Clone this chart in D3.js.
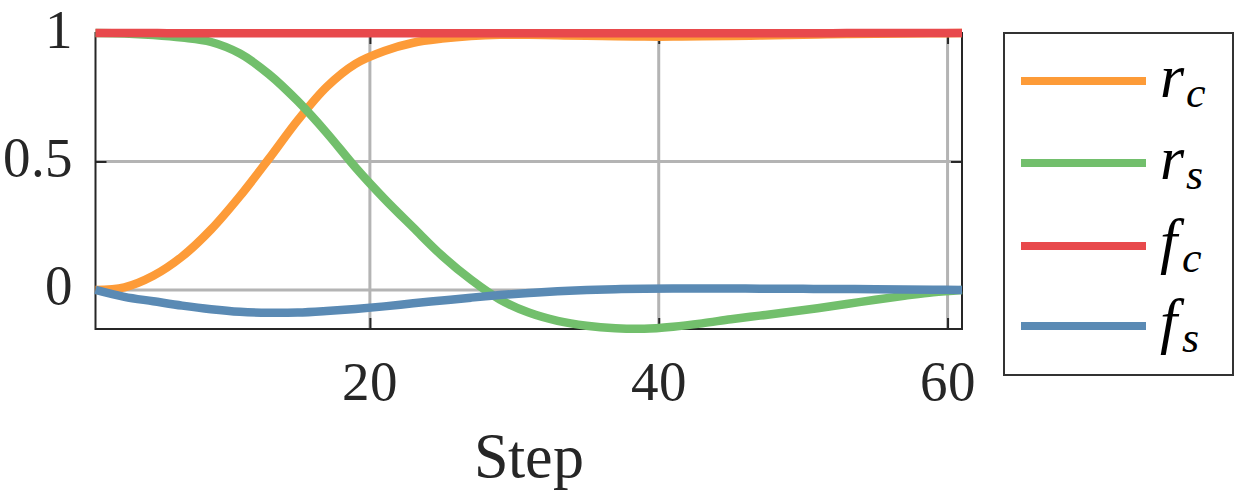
<!DOCTYPE html>
<html>
<head>
<meta charset="utf-8">
<script src="https://cdn.jsdelivr.net/npm/d3@7"></script>
<style>
  @font-face { font-family: "RefSerif"; font-style: normal; src: local("Liberation Serif"), local("LiberationSerif"), local("LiberationSerif-Regular"), local("Times New Roman"), local("DejaVu Serif"), local("DejaVuSerif"); }
  @font-face { font-family: "RefSerif"; font-style: italic; src: local("Liberation Serif Italic"), local("LiberationSerif-Italic"), local("Times New Roman Italic"), local("DejaVu Serif Italic"), local("DejaVuSerif-Italic"); }
  html, body { margin: 0; padding: 0; background: #fff; }
  svg { display: block; }
  text { font-family: "RefSerif", "Liberation Serif", "Times New Roman", Tinos, "DejaVu Serif", "Noto Serif", serif; fill: #262626; }
</style>
</head>
<body>
<svg id="chart" width="1250" height="500"></svg>
<script>
// ---- data ----
const steps = [1,3,5,7,9,11,13,15,17,19,21,23,25,27,29,31,33,35,37,39,41,43,45,47,49,51,53,55,57,59,61];
const rc = [0,0.01,0.055,0.13,0.235,0.365,0.51,0.66,0.79,0.88,0.93,0.962,0.978,0.988,0.993,0.993,0.991,0.989,0.987,0.986,0.986,0.987,0.988,0.99,0.992,0.994,0.996,0.997,0.998,0.999,1];
const rs = [1,0.998,0.992,0.982,0.965,0.92,0.84,0.735,0.612,0.477,0.355,0.243,0.133,0.04,-0.037,-0.088,-0.12,-0.139,-0.149,-0.151,-0.143,-0.13,-0.114,-0.1,-0.086,-0.071,-0.055,-0.038,-0.023,-0.009,0];
const fc = [1,1,1,0.999,0.999,0.999,0.999,0.999,0.999,0.999,0.999,0.999,0.999,0.999,0.999,0.999,0.999,0.999,0.999,0.999,0.999,0.999,0.999,0.999,0.999,0.999,1,1,1,1,1];
const fs = [0,-0.027,-0.044,-0.061,-0.075,-0.085,-0.089,-0.088,-0.082,-0.074,-0.064,-0.052,-0.041,-0.03,-0.02,-0.012,-0.005,0,0.003,0.005,0.006,0.006,0.006,0.005,0.005,0.004,0.004,0.003,0.002,0.001,0];
const seriesNames = [["r","c"],["r","s"],["f","c"],["f","s"]];
const seriesColors = ["#fd9b38","#72bf6c","#e8494c","#5a8ab4"];
const xTicks = [20,40,60];
const xTickLabels = ["20","40","60"];
const yTicks = [0,0.5,1];
const yTickLabels = ["0","0.5","1"];
const xLabel = "Step";

// ---- layout ----
const svg = d3.select("#chart");
const L = 95.5, R = 962, T = 33, B = 329;
const x = d3.scaleLinear().domain([1,61]).range([L,R]);
const y = d3.scaleLinear().domain([-0.152,1]).range([B,T]);
const ink = "#262626";

// grid
const grid = svg.append("g");
grid.selectAll("line.gx").data(xTicks).join("line")
  .attr("x1", d=>x(d)).attr("x2", d=>x(d)).attr("y1", T).attr("y2", B)
  .attr("stroke", "#b4b4b4").attr("stroke-width", 3);
grid.selectAll("line.gy").data(yTicks).join("line")
  .attr("y1", d=>y(d)).attr("y2", d=>y(d)).attr("x1", L).attr("x2", R)
  .attr("stroke", "#b4b4b4").attr("stroke-width", 3);

// frame
svg.append("rect").attr("x", L).attr("y", T).attr("width", R-L).attr("height", B-T)
  .attr("fill", "none").attr("stroke", ink).attr("stroke-width", 2);

const fontSize = 55;
// axes
const gb = svg.append("g").attr("transform", `translate(0,${B})`)
  .call(d3.axisBottom(x).tickValues(xTicks).tickFormat((d,i)=>xTickLabels[i]).tickSize(-11).tickSizeOuter(0));
gb.select(".domain").remove();
gb.selectAll("line").attr("stroke", ink).attr("stroke-width", 2);
gb.selectAll("text").attr("y", 71).attr("dy", null).attr("font-size", fontSize).attr("fill", ink);

const gt = svg.append("g").attr("transform", `translate(0,${T})`)
  .call(d3.axisTop(x).tickValues(xTicks).tickFormat("").tickSize(-11).tickSizeOuter(0));
gt.select(".domain").remove();
gt.selectAll("line").attr("stroke", ink).attr("stroke-width", 2);

const gl = svg.append("g").attr("transform", `translate(${L},0)`)
  .call(d3.axisLeft(y).tickValues(yTicks).tickFormat((d,i)=>yTickLabels[i]).tickSize(-11).tickSizeOuter(0));
gl.select(".domain").remove();
gl.selectAll("line").attr("stroke", ink).attr("stroke-width", 2);
gl.selectAll("text").attr("x", -23).attr("dy", null).attr("y", 14).attr("font-size", fontSize).attr("fill", ink);

const gr = svg.append("g").attr("transform", `translate(${R},0)`)
  .call(d3.axisRight(y).tickValues(yTicks).tickFormat("").tickSize(-11).tickSizeOuter(0));
gr.select(".domain").remove();
gr.selectAll("line").attr("stroke", ink).attr("stroke-width", 2);

// x label
svg.append("text").attr("x", 529).attr("y", 477).attr("text-anchor", "middle")
  .attr("font-size", 62).text(xLabel);

// lines
const allSeries = [rc, rs, fc, fs];
const line = d3.line().x((d,i)=>x(steps[i])).y(d=>y(d)).curve(d3.curveCatmullRom.alpha(0.5));
svg.append("g").selectAll("path").data(allSeries).join("path")
  .attr("d", d=>line(d)).attr("fill", "none")
  .attr("stroke", (d,i)=>seriesColors[i]).attr("stroke-width", 8.5);

// legend
const lg = svg.append("g");
lg.append("rect").attr("x", 1004).attr("y", 33).attr("width", 229).attr("height", 342)
  .attr("fill", "#fff").attr("stroke", "#333").attr("stroke-width", 2);
const rowY = [81, 163, 246, 326];
seriesNames.forEach((nm, i) => {
  lg.append("line").attr("x1", 1021).attr("x2", 1146).attr("y1", rowY[i]).attr("y2", rowY[i])
    .attr("stroke", seriesColors[i]).attr("stroke-width", 8);
  const t = lg.append("text").attr("x", 1160).attr("y", rowY[i] + 16)
    .attr("font-size", 62).attr("font-style", "italic").style("fill", "#000");
  t.append("tspan").text(nm[0]);
  t.append("tspan").attr("dx", nm[0] === "f" ? 5 : 2).attr("dy", 10).attr("font-size", 44).text(nm[1]);
});
</script>
</body>
</html>
